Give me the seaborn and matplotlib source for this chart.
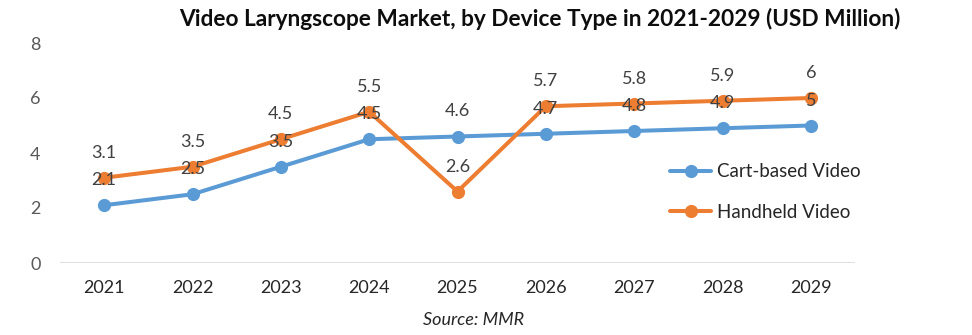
import matplotlib
matplotlib.use("Agg")
import matplotlib.pyplot as plt
import seaborn as sns
import pandas as pd

years = [2021, 2022, 2023, 2024, 2025, 2026, 2027, 2028, 2029]
cart_based = [2.1, 2.5, 3.5, 4.5, 4.6, 4.7, 4.8, 4.9, 5.0]
handheld = [3.1, 3.5, 4.5, 5.5, 2.6, 5.7, 5.8, 5.9, 6.0]
series_names = ["Cart-based Video", "Handheld Video"]
y_ticks = [0, 2, 4, 6, 8]
title = "Video Laryngscope Market, by Device Type in 2021-2029 (USD Million)"
source = "Source: MMR"

sns.set_theme(style="white")
plt.rcParams['font.family'] = ['Lato', 'DejaVu Sans']

df = pd.DataFrame({
    "Year": years * 2,
    "Value": cart_based + handheld,
    "Series": [series_names[0]] * len(years) + [series_names[1]] * len(years),
})

colors = {series_names[0]: "#5B9BD5", series_names[1]: "#ED7D31"}

fig = plt.figure(figsize=(9.72, 3.35), dpi=100)
ax = fig.add_axes([60/972, (335-263)/335, (855-60)/972, (263-43)/335])

sns.lineplot(data=df, x="Year", y="Value", hue="Series", palette=colors,
             marker="o", markersize=9.5, markeredgewidth=0, linewidth=2.9,
             sort=False, ax=ax, legend=True)

for name, vals in zip(series_names, [cart_based, handheld]):
    for x, v in zip(years, vals):
        lab = f"{v:g}"
        ax.annotate(lab, (x, v), xytext=(0, 18), textcoords="offset points",
                    ha="center", va="center", fontsize=13, color="#404040")

ax.set_xlim(years[0] - 0.5, years[-1] + 0.5)
ax.set_ylim(0, 8)
ax.set_yticks(y_ticks)
ax.set_xticks(years)
ax.set_xticklabels([str(y) for y in years])
ax.tick_params(axis='x', labelsize=13, labelcolor="#262626", pad=12, length=0)
ax.tick_params(axis='y', labelsize=13, labelcolor="#595959", pad=14, length=0)
ax.set_xlabel("")
ax.set_ylabel("")
for s in ax.spines.values():
    s.set_visible(False)
ax.axhline(0, color="#D9D9D9", linewidth=1.2, zorder=0)

handles, labels = ax.get_legend_handles_labels()
leg = ax.legend(handles, labels, loc="center left", bbox_to_anchor=((670-60)/795, (263-192)/220),
                frameon=False, fontsize=13.5, handlelength=2.2, labelspacing=1.25,
                handletextpad=0.3, borderaxespad=0, borderpad=0)
for t in leg.get_texts():
    t.set_color("#262626")

fig.text(540/972, 1 - 19/335, title, ha="center", va="center", fontsize=16.3,
         fontweight="bold", color="#0D0D0D")
fig.text(474/972, 1 - 320/335, source, ha="center", va="center", fontsize=13,
         fontstyle="italic", color="#262626")

fig.savefig("out.png", dpi=100)
